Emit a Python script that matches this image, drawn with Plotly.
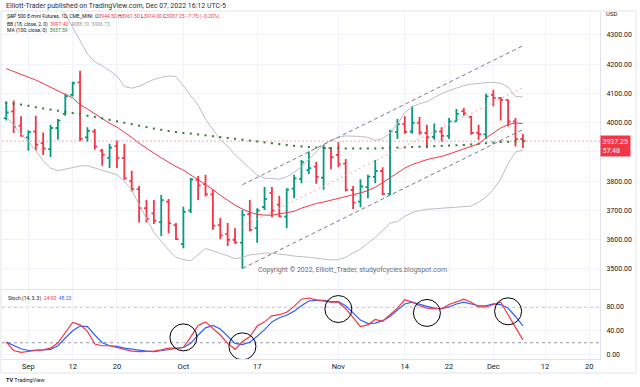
import plotly.graph_objects as go

# ---------------- data ----------------
dates = [
    "2022-08-29", "2022-08-30", "2022-08-31",
    "2022-09-01", "2022-09-02", "2022-09-06", "2022-09-07", "2022-09-08", "2022-09-09",
    "2022-09-12", "2022-09-13", "2022-09-14", "2022-09-15", "2022-09-16",
    "2022-09-19", "2022-09-20", "2022-09-21", "2022-09-22", "2022-09-23",
    "2022-09-26", "2022-09-27", "2022-09-28", "2022-09-29", "2022-09-30",
    "2022-10-03", "2022-10-04", "2022-10-05", "2022-10-06", "2022-10-07",
    "2022-10-10", "2022-10-11", "2022-10-12", "2022-10-13", "2022-10-14",
    "2022-10-17", "2022-10-18", "2022-10-19", "2022-10-20", "2022-10-21",
    "2022-10-24", "2022-10-25", "2022-10-26", "2022-10-27", "2022-10-28",
    "2022-10-31", "2022-11-01", "2022-11-02", "2022-11-03", "2022-11-04",
    "2022-11-07", "2022-11-08", "2022-11-09", "2022-11-10", "2022-11-11",
    "2022-11-14", "2022-11-15", "2022-11-16", "2022-11-17", "2022-11-18",
    "2022-11-21", "2022-11-22", "2022-11-23", "2022-11-25",
    "2022-11-28", "2022-11-29", "2022-11-30",
    "2022-12-01", "2022-12-02", "2022-12-05", "2022-12-06", "2022-12-07",
]
future_dates = ["2022-12-08", "2022-12-09", "2022-12-12", "2022-12-13", "2022-12-14",
                "2022-12-15", "2022-12-16", "2022-12-19", "2022-12-20", "2022-12-21",
                "2022-12-22", "2022-12-23"]

opens = [4016, 4039, 3990, 3950, 3970, 3930, 3910, 3982, 4030, 4095, 4138, 3950, 3970, 3905,
         3880, 3920, 3880, 3800, 3773, 3708, 3690, 3660, 3730, 3650, 3585, 3700, 3805, 3790,
         3755, 3650, 3620, 3600, 3590, 3688, 3640, 3712, 3760, 3720, 3679, 3775, 3808, 3838,
         3850, 3812, 3913, 3890, 3860, 3770, 3730, 3780, 3815, 3835, 3757, 3968, 3995, 3970,
         4000, 3965, 3952, 3970, 3955, 4005, 4040, 4020, 3966, 3960, 4095, 4085, 4078, 4005,
         3944.5]
highs = [4073, 4076, 4022, 3974, 4024, 3967, 3993, 4013, 4099, 4141, 4178, 3985, 3979, 3910,
         3928, 3939, 3928, 3836, 3784, 3736, 3736, 3753, 3739, 3657, 3713, 3811, 3818, 3822,
         3771, 3674, 3657, 3639, 3702, 3736, 3708, 3780, 3780, 3750, 3776, 3822, 3873, 3902,
         3867, 3925, 3915, 3933, 3876, 3784, 3807, 3822, 3873, 3848, 3976, 4013, 4022, 4056,
         4020, 3993, 3997, 3985, 4016, 4047, 4050, 4024, 3993, 4099, 4113, 4088, 4079, 4016,
         3961.5]
lows = [4008, 3965, 3953, 3904, 3905, 3890, 3883, 3942, 4024, 4090, 3938, 3936, 3908, 3853,
        3845, 3845, 3805, 3765, 3659, 3659, 3654, 3613, 3622, 3599, 3571, 3691, 3736, 3748,
        3634, 3602, 3579, 3586, 3502, 3628, 3590, 3702, 3677, 3677, 3639, 3742, 3793, 3825,
        3791, 3771, 3841, 3848, 3765, 3704, 3711, 3742, 3793, 3753, 3753, 3944, 3962, 3962,
        3959, 3913, 3942, 3936, 3944, 4004, 4024, 3959, 3942, 3944, 4056, 4008, 3987, 3919,
        3914]
closes = [4035, 3987, 3955, 3968, 3925, 3912, 3982, 4007, 4090, 4135, 3945, 3972, 3919, 3890,
          3915, 3880, 3810, 3773, 3708, 3671, 3665, 3735, 3657, 3602, 3695, 3806, 3786, 3755,
          3648, 3615, 3600, 3590, 3685, 3634, 3700, 3740, 3700, 3680, 3771, 3810, 3865, 3845,
          3815, 3913, 3882, 3858, 3771, 3727, 3782, 3816, 3835, 3757, 3970, 3995, 3969, 4000,
          3966, 3950, 3970, 3955, 4005, 4030, 4032, 3965, 3961, 4090, 4085, 4078, 4005, 3944,
          3937.25]

bb_basis = [4185, 4175, 4165, 4157, 4146, 4134, 4121, 4108, 4097, 4085, 4062, 4047, 4030,
            4013, 3998, 3985, 3969, 3950, 3930, 3912, 3896, 3880, 3865, 3850, 3838, 3822,
            3805, 3790, 3772, 3752, 3735, 3718, 3705, 3694, 3687, 3684, 3684, 3688, 3692,
            3697, 3708, 3717, 3724, 3729, 3735, 3740, 3746, 3752, 3760, 3768, 3780, 3795,
            3812, 3830, 3845, 3857, 3866, 3874, 3880, 3885, 3893, 3902, 3910, 3918, 3928,
            3948, 3966, 3982, 3994, 3999, 3997.42]
bb_upper = [4352, 4368, 4395, 4410, 4420, 4420, 4410, 4395, 4372, 4325, 4278, 4235, 4208,
            4195, 4178, 4160, 4124, 4118, 4125, 4137, 4148, 4155, 4160, 4158, 4125, 4095,
            4060, 4012, 3975, 3942, 3920, 3890, 3868, 3845, 3820, 3811, 3808, 3807, 3815,
            3830, 3850, 3875, 3900, 3925, 3940, 3950, 3955, 3955, 3953, 3950, 3940, 3945,
            3965, 3995, 4035, 4055, 4065, 4072, 4085, 4100, 4110, 4118, 4127, 4132, 4135,
            4137, 4138, 4135, 4122, 4090, 4088.10]
bb_lower = [4020, 3990, 3962, 3935, 3905, 3870, 3845, 3836, 3842, 3848, 3852, 3853, 3845,
            3838, 3830, 3822, 3800, 3770, 3720, 3670, 3625, 3595, 3565, 3540, 3532, 3528,
            3548, 3570, 3562, 3554, 3545, 3535, 3540, 3548, 3552, 3554, 3554, 3552, 3548,
            3544, 3543, 3540, 3537, 3535, 3531, 3532, 3540, 3555, 3568, 3588, 3608, 3632,
            3657, 3662, 3680, 3693, 3700, 3704, 3706, 3707, 3708, 3710, 3712, 3715, 3728,
            3746, 3772, 3808, 3860, 3900, 3906.73]
ma100 = [4068, 4065, 4062, 4058, 4053, 4049, 4045, 4041, 4037, 4033, 4029, 4024, 4020, 4015,
         4010, 4005, 4000, 3995, 3990, 3985, 3980, 3976, 3972, 3968, 3965, 3963, 3960, 3957,
         3954, 3951, 3948, 3945, 3942, 3939, 3936, 3933, 3930, 3927, 3924, 3921, 3919, 3917,
         3915, 3914, 3913, 3913, 3912, 3912, 3912, 3912, 3912, 3913, 3914, 3915, 3916, 3917,
         3918, 3919, 3920, 3921, 3922, 3923, 3924, 3926, 3928, 3930, 3932, 3934, 3935, 3936,
         3937.59]
stoch_k = [21, 7, 4, 6, 7, 8, 11, 20, 36, 54, 50, 39, 18, 15, 15, 12, 9, 6, 5, 5, 6, 8, 11,
           11, 12, 30, 49, 55, 44, 33, 19, 9, 22, 30, 48, 55, 65, 67, 71, 81, 93, 95, 92,
           90, 88, 88, 77, 62, 47, 50, 59, 56, 67, 78, 92, 88, 82, 78, 77, 77, 84, 88, 93,
           88, 80, 80, 84, 88, 67, 47, 24.90]
stoch_d = [21, 15, 10, 7, 7, 8, 9, 15, 28, 40, 48, 47, 33, 20, 15, 14, 11, 9, 7, 6, 5, 7, 8,
           10, 12, 19, 33, 45, 49, 43, 31, 19, 17, 21, 31, 42, 55, 62, 66, 73, 82, 90, 91,
           91, 89, 89, 82, 70, 58, 52, 53, 57, 64, 75, 85, 88, 84, 81, 78, 77, 80, 85, 88,
           85, 82, 82, 85, 84, 78, 64, 48.23]

tick_dates = ["2022-09-01", "2022-09-12", "2022-09-20", "2022-10-03", "2022-10-17",
              "2022-11-01", "2022-11-14", "2022-11-22", "2022-12-01", "2022-12-12", "2022-12-20"]
tick_text = ["Sep", "12", "20", "Oct", "17", "Nov", "14", "22", "Dec", "12", "20"]
price_ticks = [3500, 3600, 3700, 3800, 3900, 4000, 4100, 4200, 4300]
price_hidden_tick = 3900          # covered by the last-price label in the reference
stoch_ticks = [0, 40, 80]
stoch_levels = [20, 80]

channel_dates = ["2022-10-13", "2022-12-07"]
channel_upper = [3788, 4263]
channel_mid = [3645, 4120]
channel_lower = [3502, 3977]

circle_dates = ["2022-10-03", "2022-10-13", "2022-11-01", "2022-11-17", "2022-12-05"]
circle_values = [29, 14, 76.5, 70, 72.7]

last_close = 3937.25

# ---------------- layout geometry ----------------
FIG_W, FIG_H = 640, 387
PLOT_L, PLOT_R = 2, 600
TOP, BOTTOM = 12, 359
MAIN_BOTTOM, STOCH_TOP = 289, 290
FIRST_PX, BAR_PX = 28.4, 7.38

axis_dates = dates + future_dates
pos = {d: i for i, d in enumerate(axis_dates)}
xs = [pos[d] for d in dates]
origin = pos["2022-09-01"]
x_range = [origin + (PLOT_L - FIRST_PX) / BAR_PX, origin + (PLOT_R - FIRST_PX) / BAR_PX]

H = BOTTOM - TOP
W = PLOT_R - PLOT_L


def px_x(p):
    return (p - PLOT_L) / W


def px_y(p):
    return (BOTTOM - p) / H


main_dom = [px_y(MAIN_BOTTOM), 1]
stoch_dom = [0, px_y(STOCH_TOP)]
price_range = [3431.6, 4378.6]
stoch_range = [-7.2, 108.4]

GREEN = "#089981"
RED = "#f23645"
BLUE = "#2962ff"
GRID = "#f0f3fa"
TXT = "#131722"
FONT = "Roboto"
BAND = "#bcbec4"

fig = go.Figure()

# Bollinger bands
fig.add_trace(go.Scatter(x=xs, y=bb_upper, mode="lines", line=dict(color=BAND, width=1),
                         xaxis="x", yaxis="y", hoverinfo="skip"))
fig.add_trace(go.Scatter(x=xs, y=bb_lower, mode="lines", line=dict(color=BAND, width=1),
                         xaxis="x", yaxis="y", hoverinfo="skip"))
fig.add_trace(go.Scatter(x=xs, y=bb_basis, mode="lines", line=dict(color=RED, width=1),
                         xaxis="x", yaxis="y", hoverinfo="skip"))
# MA 100 dots
fig.add_trace(go.Scatter(x=xs, y=ma100, mode="markers",
                         marker=dict(color="#2e7d32", size=2, symbol="square", line=dict(width=0)),
                         xaxis="x", yaxis="y", hoverinfo="skip"))
# OHLC bars
fig.add_trace(go.Ohlc(x=xs, open=opens, high=highs, low=lows, close=closes,
                      increasing=dict(line=dict(color=GREEN, width=1.8)),
                      decreasing=dict(line=dict(color=RED, width=1.8)),
                      tickwidth=0.33, xaxis="x", yaxis="y", hoverinfo="skip"))
# channel drawing
cx = [pos[d] for d in channel_dates]
for yy, col, dash in [(channel_upper, "#787b86", "4px,3px"),
                      (channel_lower, "#787b86", "4px,3px"),
                      (channel_mid, "#f5a3a8", "2px,3px")]:
    fig.add_trace(go.Scatter(x=cx, y=yy, mode="lines", line=dict(color=col, width=1, dash=dash),
                             xaxis="x", yaxis="y", hoverinfo="skip"))

# Stochastic
fig.add_trace(go.Scatter(x=xs, y=stoch_d, mode="lines", line=dict(color=BLUE, width=1.2),
                         xaxis="x2", yaxis="y2", hoverinfo="skip"))
fig.add_trace(go.Scatter(x=xs, y=stoch_k, mode="lines", line=dict(color=RED, width=1.2),
                         xaxis="x2", yaxis="y2", hoverinfo="skip"))

shapes = []
# last price line
shapes.append(dict(type="line", xref="paper", yref="y", x0=0, x1=1, y0=last_close, y1=last_close,
                   line=dict(color="rgba(242,54,69,0.45)", width=1, dash="2px,2px"), layer="below"))
# stoch levels
for lv in stoch_levels:
    shapes.append(dict(type="line", xref="paper", yref="y2", x0=0, x1=1, y0=lv, y1=lv,
                       line=dict(color="#9598a1", width=1, dash="3px,3px"), layer="below"))
# circles
rx = 13.5 / BAR_PX
ry = 13.5 / ((BOTTOM - STOCH_TOP) / (stoch_range[1] - stoch_range[0]))
for d, v in zip(circle_dates, circle_values):
    c = pos[d]
    shapes.append(dict(type="circle", xref="x2", yref="y2", x0=c - rx, x1=c + rx,
                       y0=v - ry, y1=v + ry, line=dict(color="#000000", width=1)))
# frame
shapes.append(dict(type="rect", xref="paper", yref="paper", x0=px_x(1), x1=px_x(636),
                   y0=px_y(373), y1=px_y(11), line=dict(color="#e0e3eb", width=1)))

ann = []


def text(xp, yp, s, size, color=TXT, xanchor="left", yanchor="middle", **kw):
    ann.append(dict(xref="paper", yref="paper", x=px_x(xp), y=px_y(yp), text=s, showarrow=False,
                    xanchor=xanchor, yanchor=yanchor, font=dict(family=FONT, size=size, color=color),
                    **kw))


text(4, 5.5, "Elliott-Trader published on TradingView.com, Dec 07, 2022 16:12 UTC-5", 7,
     color="#2a2e39")
text(5, 16.8, "S&P 500 E-mini Futures, 1D, CME_MINI  "
     f"O<span style='color:{RED}'>3944.50</span> H<span style='color:{RED}'>3961.50</span> "
     f"L<span style='color:{RED}'>3914.00</span> C<span style='color:{RED}'>3937.25</span> "
     f"<span style='color:{RED}'>−7.75 (−0.20%)</span>", 5)
text(5, 24, f"BB (18, close, 2, 0)  <span style='color:{RED}'>3997.42</span>  "
     "<span style='color:#9598a1'>4088.10  3906.73</span>", 5)
text(5, 31, "MA (100, close, 0)  <span style='color:#2e7d32'>3937.59</span>", 5)
text(352, 270, "Copyright © 2022, Elliott_Trader, studyofcycles.blogspot.com", 7,
     color="#6a6d78", xanchor="center")
text(6, 298, f"Stoch (14, 3, 3)  <span style='color:{RED}'>24.90</span>  "
     f"<span style='color:{BLUE}'>48.23</span>", 5)
text(604, 14, "USD", 6)
text(4, 380, "<b>TV</b> TradingView", 5.5)
# price label on axis
ann.append(dict(xref="paper", yref="y", x=1, y=last_close, xanchor="left", yanchor="top",
                yshift=6, text="3937.25<br>57:48", showarrow=False, align="left",
                bgcolor=RED, borderpad=1.5, font=dict(family=FONT, size=7, color="white")))

price_ticktext = ["" if v == price_hidden_tick else f"{v:.2f}" for v in price_ticks]

axis_common = dict(showgrid=True, gridcolor=GRID, gridwidth=1, zeroline=False)
fig.update_layout(
    width=FIG_W, height=FIG_H,
    margin=dict(l=PLOT_L, r=FIG_W - PLOT_R, t=TOP, b=FIG_H - BOTTOM),
    paper_bgcolor="white", plot_bgcolor="white",
    showlegend=False, hovermode=False,
    font=dict(family=FONT, color=TXT),
    xaxis=dict(domain=[0, 1], anchor="y", range=x_range, tickvals=[pos[d] for d in tick_dates],
               ticktext=tick_text, showticklabels=False, rangeslider=dict(visible=False),
               showline=True, linecolor="#e0e3eb", linewidth=1, matches="x2", **axis_common),
    yaxis=dict(domain=main_dom, anchor="x", side="right", range=price_range, tickvals=price_ticks,
               ticktext=price_ticktext, tickfont=dict(size=7, color=TXT), ticks="outside",
               ticklen=4, tickcolor="rgba(0,0,0,0)", showline=True, linecolor="#e0e3eb",
               **axis_common),
    xaxis2=dict(domain=[0, 1], anchor="y2", range=x_range, tickvals=[pos[d] for d in tick_dates],
                ticktext=tick_text, tickfont=dict(size=7.5, color=TXT), ticks="",
                showline=True, linecolor="#e0e3eb",
                rangeslider=dict(visible=False), **axis_common),
    yaxis2=dict(domain=stoch_dom, anchor="x2", side="right", range=stoch_range,
                tickvals=stoch_ticks, tickformat=".2f", tickfont=dict(size=7, color=TXT),
                ticks="outside", ticklen=4, tickcolor="rgba(0,0,0,0)", showline=True,
                linecolor="#e0e3eb", **axis_common),
    shapes=shapes, annotations=ann,
)

fig.write_html("out.html", config={"displayModeBar": False},
               post_script="document.body.style.margin='0';document.body.style.overflow='hidden';")
